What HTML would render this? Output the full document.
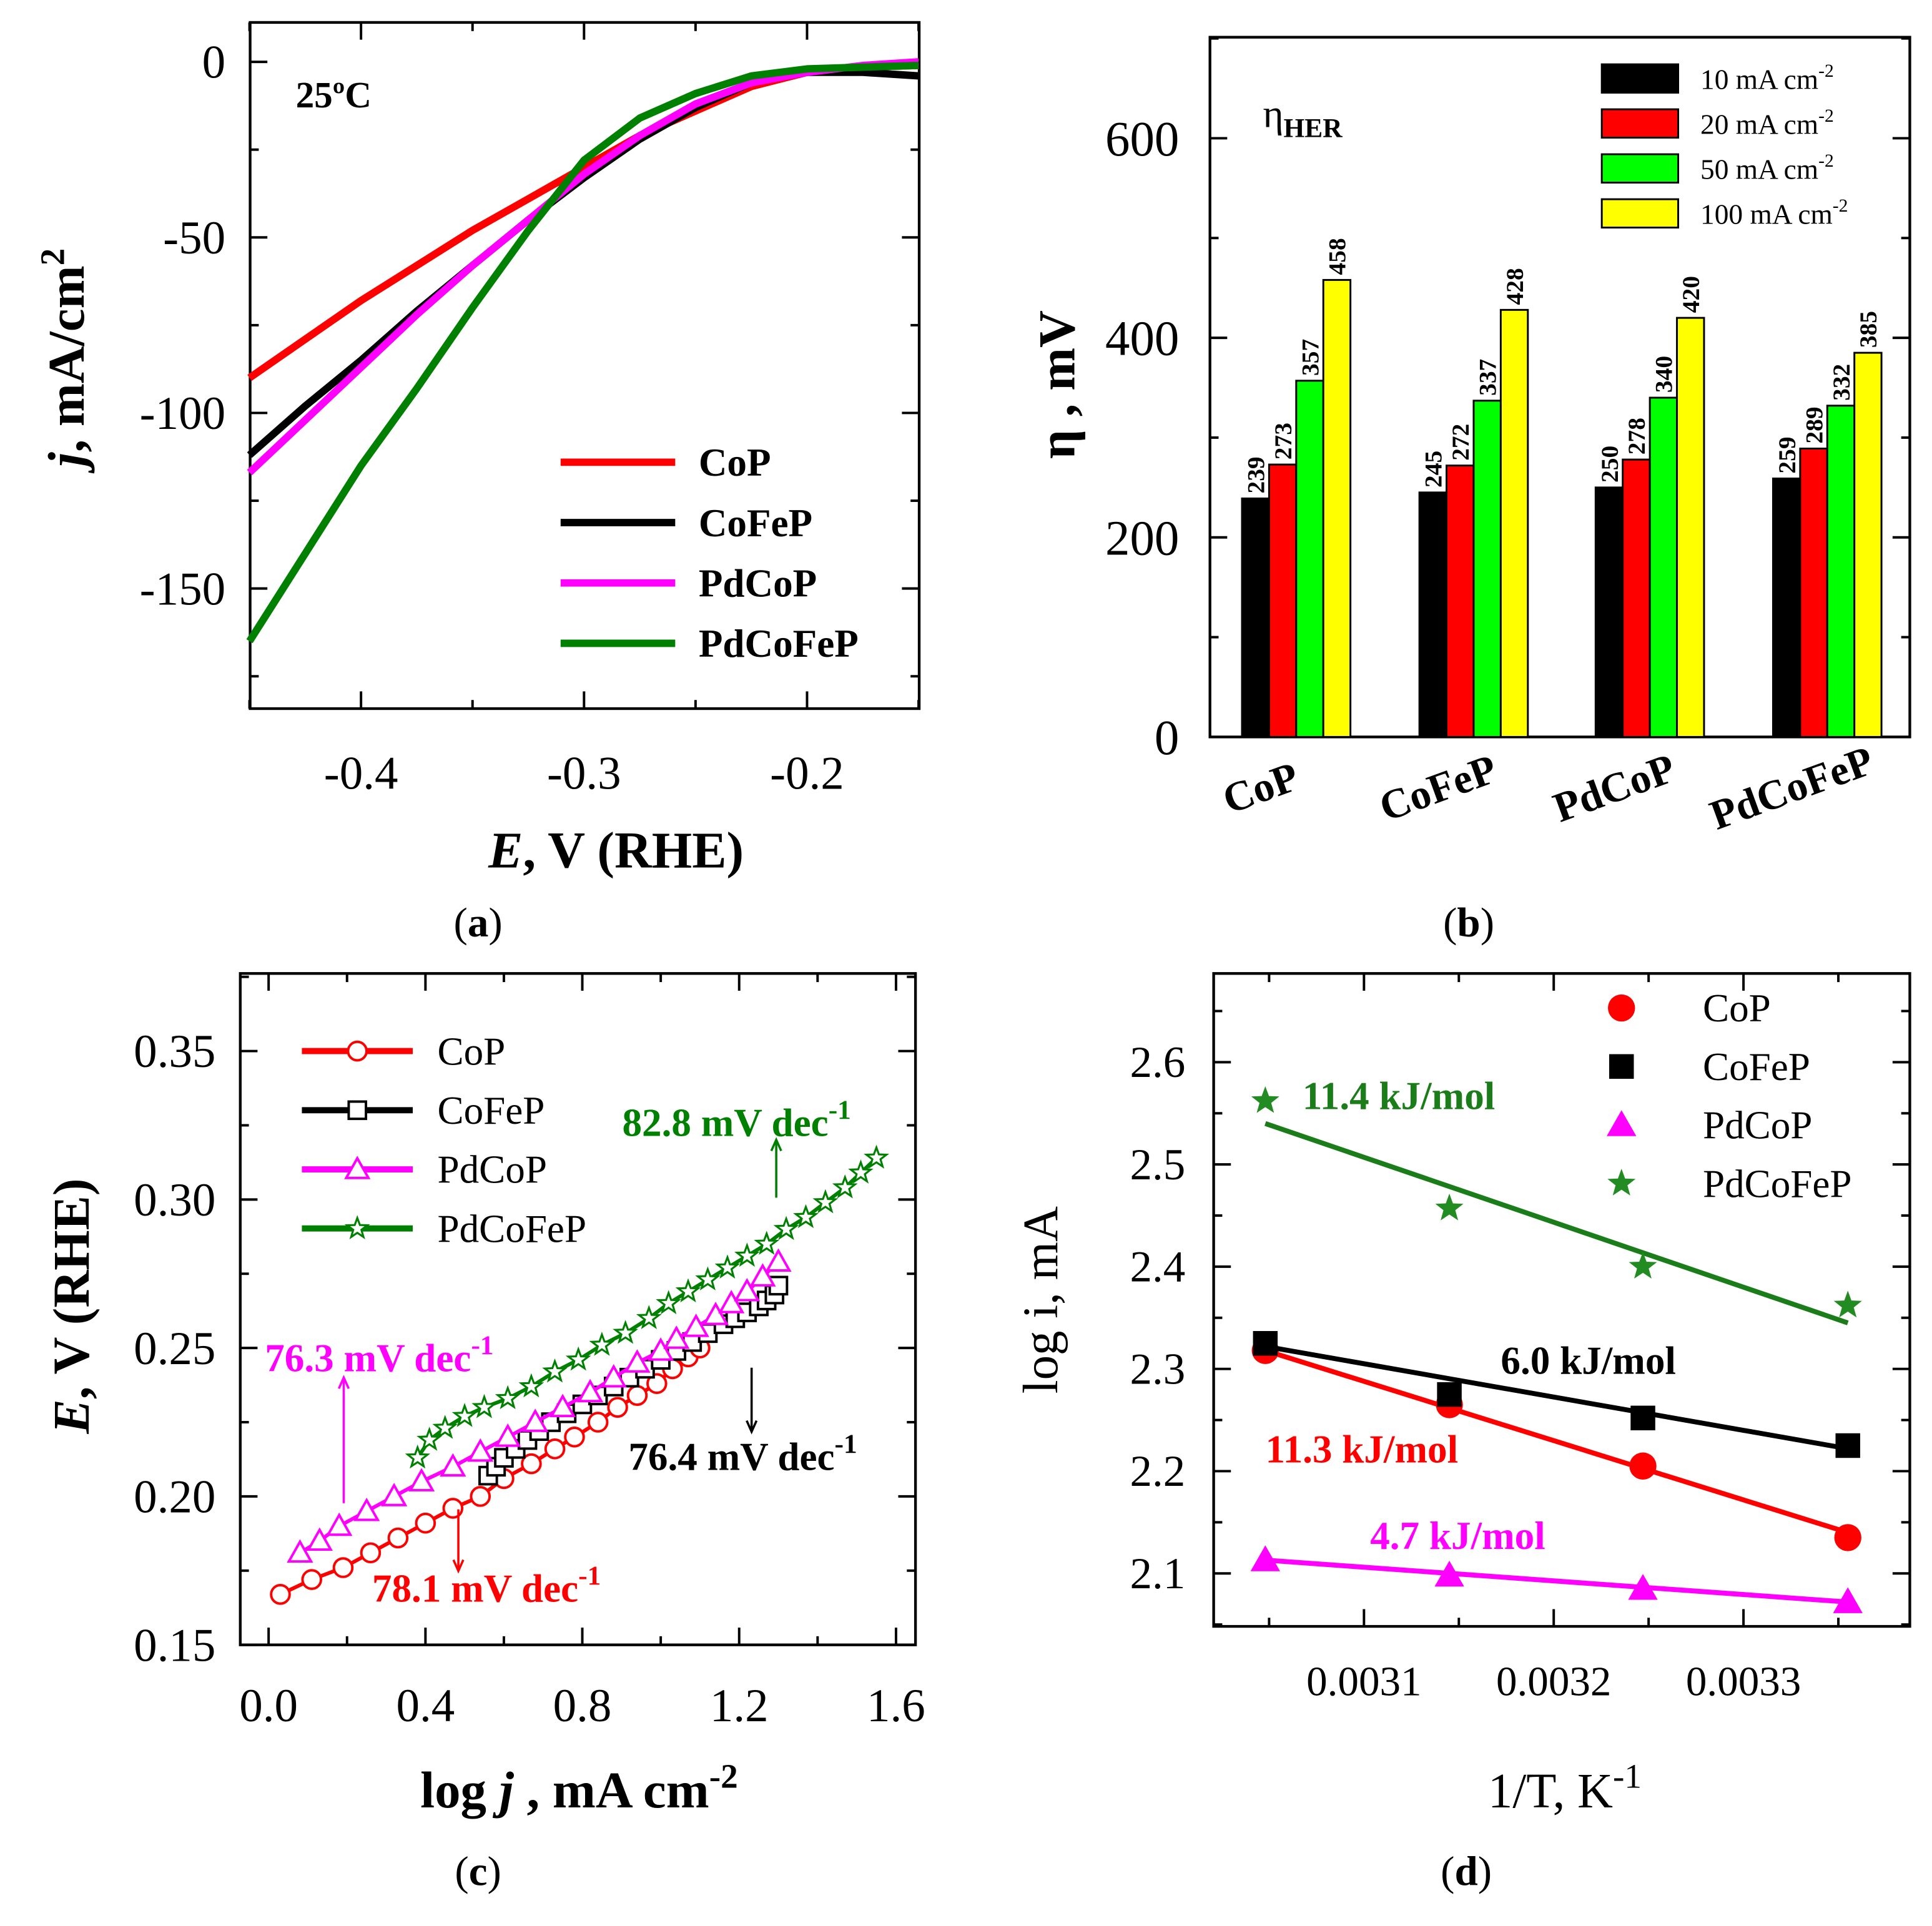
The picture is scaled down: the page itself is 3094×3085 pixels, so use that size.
<!DOCTYPE html>
<html><head><meta charset="utf-8"><style>
html,body{margin:0;padding:0;background:#fff}
svg{display:block;font-family:"Liberation Serif",serif}
</style></head><body>
<svg id="fig" xmlns="http://www.w3.org/2000/svg" width="3094" height="3085" viewBox="0 0 1568 1563"></svg>
<script>
// ---------- Panel (a) data ----------
const aE = [-0.45,-0.425,-0.40,-0.375,-0.35,-0.325,-0.30,-0.275,-0.25,-0.225,-0.20,-0.175,-0.15];
const aCoP = [-90,-79,-68,-58,-48,-39,-30,-21,-14,-7,-3,-1.5,-1];
const aCoFeP = [-112,-98,-85,-71,-58,-45,-33,-22,-13,-6,-3,-3,-4];
const aPdCoP = [-117,-102,-87,-72,-58,-45,-32,-21,-12,-6,-3,-1,0];
const aPdCoFeP = [-165,-140,-115,-93,-70,-48,-28,-16,-9,-4,-2,-1.5,-1];
// ---------- Panel (b) data ----------
const bCats = ["CoP","CoFeP","PdCoP","PdCoFeP"];
const b10 = [239,245,250,259];
const b20 = [273,272,278,289];
const b50 = [357,337,340,332];
const b100 = [458,428,420,385];
const bLegend = ["10 mA cm","20 mA cm","50 mA cm","100 mA cm"];
// ---------- Panel (c) data ----------
const cCoPx = [0.03,0.11,0.19,0.26,0.33,0.40,0.47,0.54,0.60,0.67,0.73,0.78,0.84,0.89,0.94,0.99,1.03,1.07,1.10];
const cCoPy = [0.167,0.172,0.176,0.181,0.186,0.191,0.196,0.200,0.206,0.211,0.216,0.220,0.225,0.230,0.234,0.238,0.243,0.247,0.250];
const cCoFePx = [0.56,0.58,0.60,0.63,0.66,0.69,0.72,0.76,0.80,0.84,0.88,0.92,0.96,1.00,1.04,1.08,1.12,1.16,1.19,1.22,1.25,1.27,1.29,1.30];
const cCoFePy = [0.207,0.210,0.213,0.216,0.219,0.222,0.225,0.228,0.231,0.234,0.237,0.240,0.243,0.246,0.249,0.252,0.255,0.258,0.260,0.262,0.264,0.266,0.268,0.271];
const cPdCoPx = [0.08,0.13,0.18,0.25,0.32,0.39,0.47,0.54,0.61,0.68,0.75,0.82,0.88,0.94,1.00,1.04,1.09,1.14,1.18,1.22,1.26,1.30];
const cPdCoPy = [0.181,0.185,0.190,0.195,0.200,0.205,0.210,0.215,0.220,0.225,0.230,0.235,0.240,0.245,0.249,0.253,0.257,0.261,0.265,0.269,0.274,0.279];
const cPdCoFePx = [0.38,0.41,0.45,0.50,0.55,0.61,0.67,0.73,0.79,0.85,0.91,0.97,1.02,1.07,1.12,1.17,1.22,1.27,1.32,1.37,1.42,1.47,1.51,1.55];
const cPdCoFePy = [0.213,0.219,0.223,0.227,0.230,0.233,0.237,0.242,0.246,0.251,0.255,0.260,0.265,0.269,0.273,0.277,0.281,0.285,0.290,0.294,0.299,0.304,0.309,0.314];
// ---------- Panel (d) data ----------
const dX = [0.003048,0.003145,0.003247,0.003355];
const dCoP = [2.318,2.265,2.205,2.135];
const dCoFeP = [2.325,2.275,2.252,2.225];
const dPdCoP = [2.113,2.098,2.085,2.072];
const dPdCoFeP = [2.562,2.457,2.400,2.362];
const dFitCoP = [2.318,2.140];
const dFitCoFeP = [2.322,2.222];
const dFitPdCoP = [2.113,2.072];
const dFitPdCoFeP = [2.540,2.345];

const NS="http://www.w3.org/2000/svg";
const svg=document.getElementById('fig');
function mk(tag,attrs,parent,text){const e=document.createElementNS(NS,tag);for(const k in attrs)e.setAttribute(k,attrs[k]);if(text!==undefined)e.textContent=text;(parent||svg).appendChild(e);return e;}
function grp(name){const g=mk('g',{});return g;}
function txt(g,x,y,s,size,opts){opts=opts||{};const t=mk('text',{x:x,y:y,'font-size':size,'text-anchor':opts.anchor||'start','font-weight':opts.bold?'bold':'normal',fill:opts.fill||'#000','font-style':opts.italic?'italic':'normal'},g);if(opts.rot!==undefined)t.setAttribute('transform','rotate('+opts.rot+' '+x+' '+y+')');t.innerHTML=s;return t;}
function box(g,x0,y0,x1,y1){mk('rect',{x:x0,y:y0,width:x1-x0,height:y1-y0,fill:'none',stroke:'#000','stroke-width':2.2},g);}
function tick(g,x1,y1,x2,y2){mk('line',{x1:x1,y1:y1,x2:x2,y2:y2,stroke:'#000','stroke-width':2},g);}

// ===== Panel (a) =====
(function(){
 const g=grp('panel-a');
 const X0=203,X1=746,Y0=18,Y1=575;
 const sx=v=>293+(v+0.4)*1810, sy=v=>50-v*2.85;
 box(g,X0,Y0,X1,Y1);
 for(let v=-0.45;v<=-0.149;v+=0.05){const x=sx(v);const maj=Math.abs(Math.round(v*10)-v*10)<1e-6;const L=maj?14:7;tick(g,x,Y1,x,Y1-L);tick(g,x,Y0,x,Y0+L);}
 [-0.4,-0.3,-0.2].forEach(v=>txt(g,sx(v),640,v.toFixed(1),38,{anchor:'middle'}));
 for(let v=-175;v<=0;v+=25){const y=sy(v);const maj=v%50===0;const L=maj?14:7;tick(g,X0,y,X0+L,y);tick(g,X1,y,X1-L,y);}
 [0,-50,-100,-150].forEach(v=>txt(g,183,sy(v)+13,String(v),38,{anchor:'end'}));
 const series=[[aCoP,'#ff0000','curve-cop'],[aCoFeP,'#000000','curve-cofep'],[aPdCoP,'#ff00ff','curve-pdcop'],[aPdCoFeP,'#008000','curve-pdcofep']];
 series.forEach(s=>{let d='';for(let i=0;i<aE.length;i++){d+=(i?'L':'M')+sx(aE[i]).toFixed(1)+','+sy(s[0][i]).toFixed(1);}
  const p=mk('path',{d:d,fill:'none',stroke:s[1],'stroke-width':6,'stroke-linejoin':'round'},g);});
 const names=['CoP','CoFeP','PdCoP','PdCoFeP'];
 series.forEach((s,i)=>{const y=375+i*49;const le=mk('g',{},g);
  mk('line',{x1:455,y1:y,x2:548,y2:y,stroke:s[1],'stroke-width':6},le);txt(le,567,y+11,names[i],32,{bold:true});});
 txt(g,240,87,'25ºC',30,{bold:true});
 txt(g,500,704,'<tspan font-style="italic">E</tspan>, V (RHE)',42,{anchor:'middle',bold:true});
 txt(g,68,290,'<tspan font-style="italic">j</tspan>, mA/cm<tspan dy="-16" font-size="28">2</tspan>',42,{anchor:'middle',bold:true,rot:-90});
 txt(g,388,760,'(<tspan font-weight="bold">a</tspan>)',34,{anchor:'middle'});
})();

// ===== Panel (b) =====
(function(){
 const g=grp('panel-b');
 const X0=982,X1=1550,Y0=30,Y1=598;
 const sy=v=>598-v*0.81;
 const centers=[1052,1196,1339,1483];
 box(g,X0,Y0,X1,Y1);
 for(let v=0;v<=700;v+=100){const y=sy(v);const L=v%200===0?14:7;tick(g,X0,y,X0+L,y);tick(g,X1,y,X1-L,y);}
 [0,200,400,600].forEach(v=>txt(g,957,sy(v)+14,String(v),40,{anchor:'end'}));
 const sets=[[b10,'#000000'],[b20,'#ff0000'],[b50,'#00ff00'],[b100,'#ffff00']];
 const bw=22;
 bCats.forEach((c,ci)=>{sets.forEach((s,si)=>{const x=centers[ci]-2*bw+si*bw;const v=s[0][ci];
  const r=mk('rect',{x:x,y:sy(v),width:bw,height:sy(0)-sy(v),fill:s[1],stroke:'#000','stroke-width':1.5},g);
  
  txt(g,x+bw/2+7,sy(v)-4,String(v),20,{bold:true,rot:-90});});
  txt(g,centers[ci]-25,650,c,34,{bold:true,anchor:'middle',rot:-20});});
 sets.forEach((s,i)=>{const y=52+i*36.5;const le=mk('g',{},g);
  mk('rect',{x:1300,y:y,width:62,height:23,fill:s[1],stroke:'#000','stroke-width':1.5},le);
  txt(le,1380,y+20,bLegend[i]+'<tspan dy="-10" font-size="15">-2</tspan>',23,{});});
 txt(g,1025,103,'η<tspan dy="8" font-size="22" font-weight="bold">HER</tspan>',32,{});
 txt(g,872,312,'η , mV',42,{anchor:'middle',bold:true,rot:-90});
 txt(g,1192,760,'(<tspan font-weight="bold">b</tspan>)',34,{anchor:'middle'});
})();

// ===== Panel (c) =====
(function(){
 const g=grp('panel-c');
 const X0=195,X1=743,Y0=790,Y1=1335;
 const sx=v=>218+v*318.25, sy=v=>1335-(v-0.15)*2410;
 box(g,X0,Y0,X1,Y1);
 for(let v=0;v<=1.6001;v+=0.2){const x=sx(v);const maj=Math.round(v*10)%4===0;const L=maj?14:7;tick(g,x,Y1,x,Y1-L);tick(g,x,Y0,x,Y0+L);}
 [0,0.4,0.8,1.2,1.6].forEach(v=>txt(g,sx(v),1397,v.toFixed(1),38,{anchor:'middle'}));
 for(let v=0.15;v<=0.3751;v+=0.025){const y=sy(v);const maj=Math.round(v*1000)%50===0;const L=maj?14:7;tick(g,X0,y,X0+L,y);tick(g,X1,y,X1-L,y);}
 [0.15,0.20,0.25,0.30,0.35].forEach(v=>txt(g,175,sy(v)+13,v.toFixed(2),38,{anchor:'end'}));
 function marker(parent,type,x,y,col){
  if(type==='circle')mk('circle',{cx:x,cy:y,r:7.5,fill:'#fff',stroke:col,'stroke-width':2},parent);
  else if(type==='square')mk('rect',{x:x-7,y:y-7,width:14,height:14,fill:'#fff',stroke:col,'stroke-width':2},parent);
  else if(type==='tri')mk('polygon',{points:(x)+','+(y-9)+' '+(x-9)+','+(y+7)+' '+(x+9)+','+(y+7),fill:'#fff',stroke:col,'stroke-width':2},parent);
  else {let p='';for(let k=0;k<10;k++){const r=k%2?3.5:8.5;const a=-Math.PI/2+k*Math.PI/5;p+=(x+r*Math.cos(a)).toFixed(1)+','+(y+r*Math.sin(a)).toFixed(1)+' ';}
   mk('polygon',{points:p,fill:'#fff',stroke:col,'stroke-width':1.6},parent);}
 }
 const series=[[cCoPx,cCoPy,'#ff0000','circle','CoP'],[cCoFePx,cCoFePy,'#000000','square','CoFeP'],[cPdCoPx,cPdCoPy,'#ff00ff','tri','PdCoP'],[cPdCoFePx,cPdCoFePy,'#008000','star','PdCoFeP']];
 series.forEach(s=>{const sg=mk('g',{},g);
  let d='';for(let i=0;i<s[0].length;i++)d+=(i?'L':'M')+sx(s[0][i]).toFixed(1)+','+sy(s[1][i]).toFixed(1);
  mk('path',{d:d,fill:'none',stroke:s[2],'stroke-width':3},sg);
  for(let i=0;i<s[0].length;i++)marker(sg,s[3],sx(s[0][i]),sy(s[1][i]),s[2]);});
 series.forEach((s,i)=>{const y=853+i*48;const le=mk('g',{},g);
  mk('line',{x1:245,y1:y,x2:335,y2:y,stroke:s[2],'stroke-width':5},le);marker(le,s[3],290,y,s[2]);txt(le,355,y+11,s[4],32,{});});
 function arrow(x,y1,y2,col){mk('line',{x1:x,y1:y1,x2:x,y2:y2,stroke:col,'stroke-width':1.8},g);const dir=y2<y1?1:-1;
  mk('polyline',{points:(x-4)+','+(y2+dir*9)+' '+x+','+y2+' '+(x+4)+','+(y2+dir*9),fill:'none',stroke:col,'stroke-width':1.8},g);}
 const sup='<tspan dy="-14" font-size="22">-1</tspan>';
 txt(g,505,922,'82.8 mV dec'+sup,32,{bold:true,fill:'#008000'});arrow(630,972,925,'#008000');
 txt(g,215,1113,'76.3 mV dec'+sup,32,{bold:true,fill:'#ff00ff'});arrow(279,1220,1118,'#ff00ff');
 txt(g,510,1193,'76.4 mV dec'+sup,32,{bold:true});arrow(610,1110,1162,'#000');
 txt(g,302,1300,'78.1 mV dec'+sup,32,{bold:true,fill:'#ff0000'});arrow(372,1225,1275,'#ff0000');
 txt(g,470,1467,'log <tspan font-style="italic">j</tspan> , mA cm<tspan dy="-16" font-size="28">-2</tspan>',42,{anchor:'middle',bold:true});
 txt(g,72,1060,'<tspan font-style="italic">E</tspan>, V (RHE)',42,{anchor:'middle',bold:true,rot:-90});
 txt(g,388,1530,'(<tspan font-weight="bold">c</tspan>)',34,{anchor:'middle'});
})();

// ===== Panel (d) =====
(function(){
 const g=grp('panel-d');
 const X0=985,X1=1550,Y0=790,Y1=1320;
 const sx=v=>1107+(v-0.0031)*1540000, sy=v=>862-(v-2.6)*830;
 box(g,X0,Y0,X1,Y1);
 for(let v=0.00305;v<=0.003401;v+=0.00005){const x=sx(v);const maj=Math.round(v*1e5)%10===0;const L=maj?14:7;tick(g,x,Y1,x,Y1-L);tick(g,x,Y0,x,Y0+L);}
 [0.0031,0.0032,0.0033].forEach(v=>txt(g,sx(v),1376,v.toFixed(4),34,{anchor:'middle'}));
 for(let v=2.05;v<=2.6801;v+=0.05){const y=sy(v);const maj=Math.round(v*100)%10===0;const L=maj?14:7;tick(g,X0,y,X0+L,y);tick(g,X1,y,X1-L,y);}
 [2.1,2.2,2.3,2.4,2.5,2.6].forEach(v=>txt(g,962,sy(v)+12,v.toFixed(1),36,{anchor:'end'}));
 function marker(parent,type,x,y,col){
  if(type==='circle')mk('circle',{cx:x,cy:y,r:11,fill:col},parent);
  else if(type==='square')mk('rect',{x:x-10,y:y-10,width:20,height:20,fill:col},parent);
  else if(type==='tri')mk('polygon',{points:x+','+(y-12)+' '+(x-12)+','+(y+9)+' '+(x+12)+','+(y+9),fill:col},parent);
  else {let p='';for(let k=0;k<10;k++){const r=k%2?5:12;const a=-Math.PI/2+k*Math.PI/5;p+=(x+r*Math.cos(a)).toFixed(1)+','+(y+r*Math.sin(a)).toFixed(1)+' ';}mk('polygon',{points:p,fill:col},parent);}
 }
 const series=[[dCoP,dFitCoP,'#ff0000','circle','CoP'],[dCoFeP,dFitCoFeP,'#000000','square','CoFeP'],[dPdCoP,dFitPdCoP,'#ff00ff','tri','PdCoP'],[dPdCoFeP,dFitPdCoFeP,'#228b22','star','PdCoFeP']];
 series.forEach(s=>{const sg=mk('g',{},g);
  mk('line',{x1:sx(dX[0]),y1:sy(s[1][0]),x2:sx(dX[dX.length-1]),y2:sy(s[1][1]),stroke:s[2]==='#228b22'?'#1a7d1a':s[2],'stroke-width':4},sg);
  for(let i=0;i<dX.length;i++)marker(sg,s[3],sx(dX[i]),sy(s[0][i]),s[2]);});
 series.forEach((s,i)=>{const y=818+i*47.5;const le=mk('g',{},g);
  marker(le,s[3],1316,y,s[2]);txt(le,1382,y+11,s[4],32,{});});
 txt(g,1057,900,'11.4 kJ/mol',32,{bold:true,fill:'#1a7d1a'});
 txt(g,1218,1115,'6.0 kJ/mol',32,{bold:true});
 txt(g,1027,1187,'11.3 kJ/mol',32,{bold:true,fill:'#ff0000'});
 txt(g,1112,1257,'4.7 kJ/mol',32,{bold:true,fill:'#ff00ff'});
 txt(g,1270,1467,'1/T, K<tspan dy="-16" font-size="28">-1</tspan>',40,{anchor:'middle'});
 txt(g,858,1055,'log i, mA',40,{anchor:'middle',rot:-90});
 txt(g,1190,1530,'(<tspan font-weight="bold">d</tspan>)',34,{anchor:'middle'});
})();
</script>
</body></html>
